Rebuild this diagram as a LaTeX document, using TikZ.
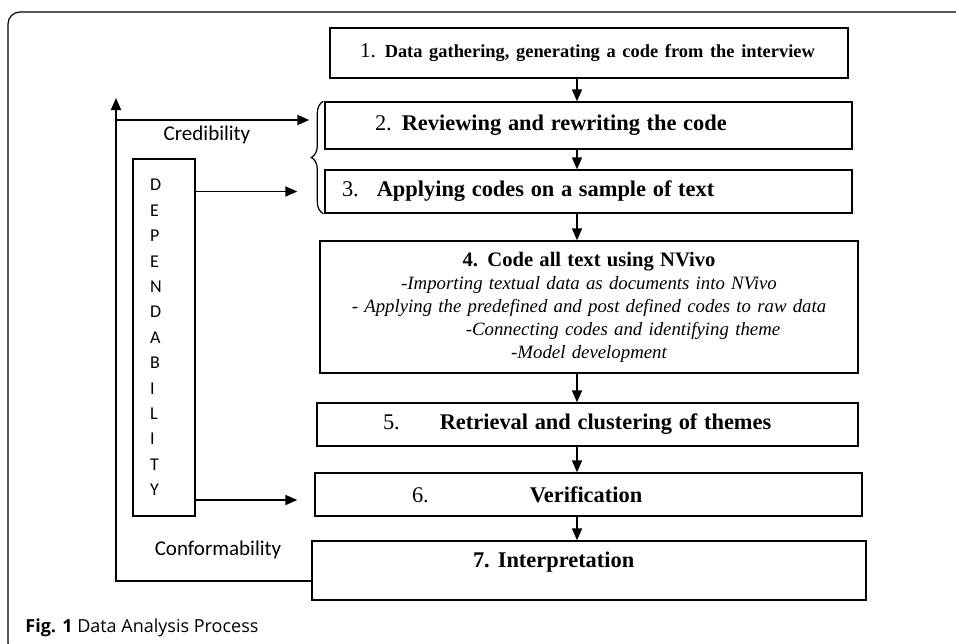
\documentclass[tikz,border=0pt]{standalone}
\usepackage{fontspec}
\setmainfont{Liberation Serif}
\newfontfamily\labelfont{Carlito}
\newfontfamily\captionfont{Open Sans}
\usetikzlibrary{arrows.meta,positioning,calc,decorations.pathreplacing}

\begin{document}
\begin{tikzpicture}[x=0.5pt,y=-0.5pt,
  stagebox/.style={draw,line width=0.7pt,inner xsep=0pt,inner ysep=0pt,align=left},
  flow/.style={line width=0.9pt,-{Triangle[length=6pt,width=5pt]}},
  sidelabel/.style={font=\labelfont\fontsize{10.5}{12}\selectfont}]
  \useasboundingbox (0,0) rectangle (956,643);
  \clip (0,0) rectangle (956,643);
  % outer frame
  \draw[line width=0.6pt,rounded corners=6pt] (8,12) rectangle (990,655);

  % process steps
  \node[stagebox,text width=259pt,minimum height=25pt] (b1) at (589,53)
    {\hspace*{15pt}\fontsize{10.5}{13}\selectfont 1.\hspace{4.5pt}\fontsize{9.2}{12}\selectfont\bfseries Data gathering, generating a code from the interview};
  \node[stagebox,text width=263.5pt,minimum height=23.5pt] (b2) at (588.5,125.5)
    {\hspace*{25pt}\fontsize{11.2}{14}\selectfont 2.\hspace{5pt}\textbf{Reviewing and rewriting the code}};
  \node[stagebox,text width=263.5pt,minimum height=21.5pt] (b3) at (588.5,191.5)
    {\hspace*{8.5pt}\fontsize{11.2}{14}\selectfont 3.\hspace{9pt}\textbf{Applying codes on a sample of text}};
  \node[stagebox,align=center,text width=269pt,minimum height=66pt,
        font=\fontsize{9.4}{11.5}\selectfont\itshape] (b4) at (589,307)
    {{\fontsize{10.3}{13}\selectfont\upshape\bfseries 4. Code all text using NVivo}\\
     -Importing textual data as documents into NVivo\\
     - Applying the predefined and post defined codes to raw data\\
     \hspace*{34pt}-Connecting codes and identifying theme\\
     -Model development};
  \node[stagebox,text width=270.5pt,minimum height=21.5pt] (b5) at (587.5,424.5)
    {\hspace*{33pt}\fontsize{11.2}{14}\selectfont 5.\hspace{20pt}\textbf{Retrieval and clustering of themes}};
  \node[stagebox,text width=273.5pt,minimum height=21.5pt] (b6) at (588.5,494.5)
    {\hspace*{48.5pt}\fontsize{11.2}{14}\selectfont 6.\hspace{50.5pt}\textbf{Verification}};
  \node[stagebox,text width=277pt,minimum height=29.5pt,text depth=10.5pt] (b7) at (589,570.5)
    {\hspace*{80.5pt}\fontsize{11.2}{14}\selectfont\textbf{7.\hspace{4pt}Interpretation}};

  % dependability column
  \node[stagebox,inner xsep=8.5pt,text width=14pt,minimum height=178.5pt,
        font=\labelfont\fontsize{9}{12.7}\selectfont] (dep) at (164,337.5)
    {D\\E\\P\\E\\N\\D\\A\\B\\I\\L\\I\\T\\Y};

  \coordinate (ax) at (577,0);
  \foreach \a/\b in {b1/b2,b2/b3,b3/b4,b4/b5,b5/b6,b6/b7}
    \draw[flow] (\a.south -| ax) -- (\b.north -| ax);

  % credibility / conformability loop
  \coordinate (ctop) at (116,98);
  \coordinate (cmid) at (116,120);
  \coordinate (cbend) at (116,581);
  \draw[flow] (b7.west |- cbend) -- (cbend) -- (ctop);
  \draw[flow,shorten >=7.5pt] (cmid) -- (cmid -| b2.west);
  \draw[decorate,decoration={brace,amplitude=6pt},line width=0.6pt]
    ([xshift=-0.5pt]b3.south west) -- ([xshift=-0.5pt]b2.north west);

  \coordinate (d6) at ([yshift=-2.75pt]b6.west);
  \draw[flow,shorten >=13.5pt] (dep.east |- b3.west) -- (b3.west);
  \draw[flow,shorten >=8.5pt] (dep.east |- d6) -- (d6);

  \node[sidelabel] (cred) at (207,135) {Credibility};
  \node[sidelabel] (conf) at (218,550) {Conformability};

  \node[anchor=west,inner sep=0pt,font=\captionfont\fontsize{9}{11}\selectfont] (cap) at (25,628)
    {\textbf{Fig. 1} Data Analysis Process};
\end{tikzpicture}
\end{document}
